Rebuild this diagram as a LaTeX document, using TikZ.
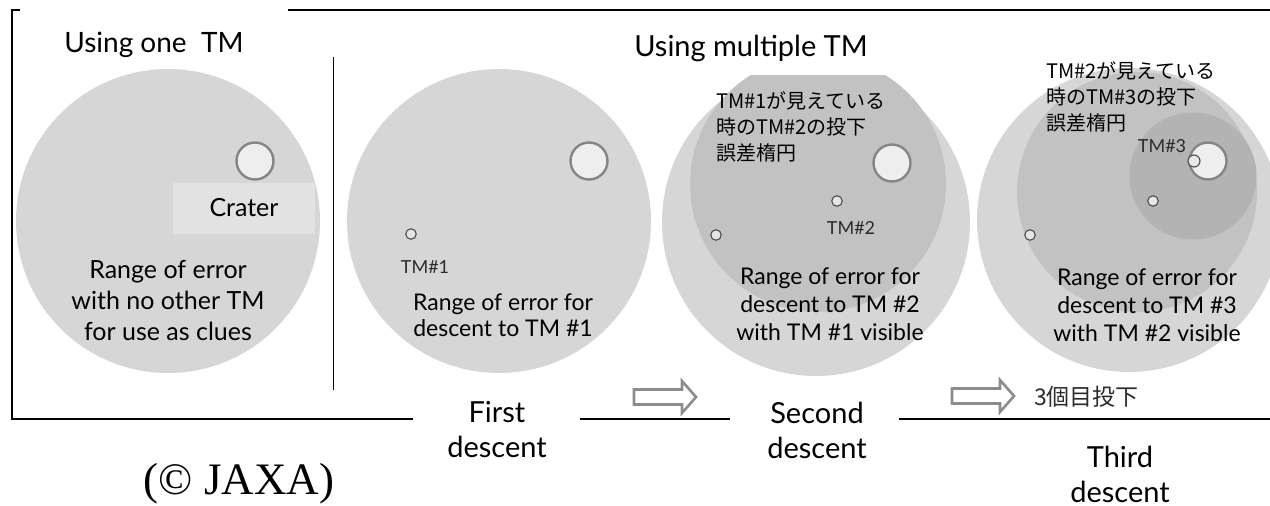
\documentclass[tikz,border=0pt]{standalone}
\usepackage{fontspec}
\setmainfont{Lato}
\newfontfamily\jp{Noto Sans CJK JP}
\newfontfamily\jaxafont{Liberation Serif}
\definecolor{outerc}{HTML}{D6D6D6}
\definecolor{midc}{HTML}{C2C2C2}
\definecolor{innerc}{HTML}{B3B3B3}
\definecolor{boxc}{HTML}{E2E2E2}
\definecolor{craterfill}{HTML}{EEEEEE}
\definecolor{craterline}{HTML}{858585}
\definecolor{markfill}{HTML}{E6E6E6}
\definecolor{markline}{HTML}{4A4A4A}
\definecolor{labc}{HTML}{2B2B2B}
\definecolor{arrowc}{HTML}{8C8C8C}
\begin{document}
\begin{tikzpicture}[x=1pt,y=-1pt,
  disk/.style={circle, fill=#1, draw=none, inner sep=0pt},
  crater/.style={circle, fill=craterfill, draw=craterline, line width=2.4pt, minimum size=37pt, inner sep=0pt},
  marker/.style={circle, fill=markfill, draw=markline, line width=1.1pt, minimum size=10.5pt, inner sep=0pt},
  body/.style={font=\fontsize{23}{#1}\selectfont, align=center, text=black, inner sep=0pt},
  small/.style={font=\fontsize{18}{20}\selectfont, text=labc, inner sep=0pt},
  jap/.style={font=\jp\fontsize{20}{26}\selectfont, align=left, text=black, inner sep=0pt},
  head/.style={font=\fontsize{29}{35}\selectfont, align=center, inner sep=0pt},
  frame/.style={line width=1.6pt, black},
  hollow/.style={draw=arrowc, fill=white, line width=2.6pt, line join=miter}]
\useasboundingbox (0,0) rectangle (1270,506);
\fill[white] (0,0) rectangle (1270,506);

% ---- panel 1: one TM
\node[disk=outerc, minimum size=304pt] (c1) at (168,221) {};
\node[fill=boxc, minimum width=142pt, minimum height=51pt, inner sep=0pt,
      font=\fontsize{25}{28}\selectfont] (cratbox) at (244,208) {Crater};
\node[crater] (k1) at (255,161) {};
\node[body=31, font=\fontsize{25}{31}\selectfont] (t1) at (168,301) {Range of error\\with no other TM\\for use as clues};

% ---- panel 2: first descent
\node[disk=outerc, minimum size=304pt] (c2) at (499,221) {};
\fill[white] (577,358) rectangle (660,385);
\node[crater] (k2) at (589,161) {};
\node[marker] (m21) at (411,234) {};
\node[small] (l21) at (425,267) {TM\#1};
\node[body=26] (t2) at (503,315) {Range of error for\\descent to TM \#1};

% ---- panel 3: second descent
\begin{scope}
  \clip (640,75) rectangle (1000,400);
  \node[disk=outerc, minimum size=308pt] (c3) at (816,222) {};
  \node[disk=midc, minimum size=256pt] (c3m) at (818,184) {};
\end{scope}
\node[crater] (k3) at (892,163) {};
\node[marker] (m31) at (716,235) {};
\node[marker] (m32) at (837,201) {};
\node[small] (l32) at (851,228) {TM\#2};
\node[jap, anchor=west] (j3) at (716,127) {TM\#1が見えている\\時のTM\#2の投下\\誤差楕円};
\node[body=28] (t3) at (830,304) {Range of error for\\descent to TM \#2\\with TM \#1 visible};

% ---- panel 4: third descent
\node[disk=outerc, minimum size=304pt] (c4) at (1129,220) {};
\node[disk=midc, minimum size=240pt] (c4m) at (1137,192) {};
\node[disk=innerc, minimum size=127pt] (c4i) at (1193,176) {};
\node[crater] (k4) at (1208,161) {};
\node[marker] (m41) at (1030,235) {};
\node[marker] (m42) at (1153,201) {};
\node[marker, minimum size=12pt] (m43) at (1194,161) {};
\node[small] (l43) at (1162,146) {TM\#3};
\node[jap, anchor=west] (j4) at (1046,97) {TM\#2が見えている\\時のTM\#3の投下\\誤差楕円};
\node[body=28] (t4) at (1147,305) {Range of error for\\descent to TM \#3\\with TM \#2 visible};

% ---- frame and separator
\draw[frame] (20,10) -- (12,10) -- (12,419) -- (413,419);
\draw[frame] (288,10) -- (1270,10);
\draw[frame] (580,419) -- (730,419);
\draw[frame] (899,419) -- (1270,419);
\draw[line width=1pt] (333,57) -- (333,390);

% ---- titles
\node[font=\fontsize{28}{32}\selectfont, inner sep=0pt] (ttl1) at (154,45) {Using one\ \ TM};
\node[font=\fontsize{29}{32}\selectfont, inner sep=0pt] (ttl2) at (751,48) {Using multiple TM};

% ---- descent labels
\node[head] (d1) at (497,430) {First\\descent};
\node[head] (d2) at (817,430) {Second\\descent};
\node[head] (d3) at (1120,474) {Third\\descent};
\node[font=\jp\fontsize{23}{26}\selectfont, text=labc, anchor=west, inner sep=0pt] (j5) at (1034,397) {3個目投下};

% ---- hollow arrows
\draw[hollow] (634,389.5) -- (682,389.5) -- (682,381) -- (696,397) -- (682,413) -- (682,404.5) -- (634,404.5) -- cycle;
\draw[hollow] (952,388.5) -- (1000,388.5) -- (1000,380) -- (1014,396) -- (1000,412) -- (1000,403.5) -- (952,403.5) -- cycle;

% ---- copyright
\node[font=\jaxafont\fontsize{45}{50}\selectfont, inner sep=0pt] (cr) at (239,484) {(© JAXA)};
\end{tikzpicture}
\end{document}
